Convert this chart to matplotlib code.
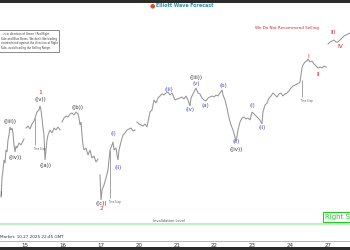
import numpy as np
import matplotlib
matplotlib.use("Agg")
import matplotlib.pyplot as plt
from matplotlib.patches import Rectangle

# bar index (approx. 1 bar per pixel) and price
bars = [1, 2, 3, 4, 5, 6, 7, 8, 9, 10, 11, 12, 13, 14, 15, 16, 17, 19, 21, 23, 24, 25,
        26, 28, 30, 32, 34, 35, 37, 39, 40, 41, 42, 43, 44, 45, 46, 47, 48, 50, 52, 54, 56, 58, 60, 61,
        62, 64, 66, 68, 70, 72, 74, 76, 78, 79, 80, 81, 82, 83, 84, 86, 88, 90, 92, 94, 96, 98, 99,
        100, 101, 102, 104, 106, 108, 109, 110, 112, 113, 114, 116, 117, 118, 119, 121, 123, 125, 127,
        129, 131, 133, 135, 136,
        137, 139, 141, 143, 145, 147, 148, 150, 152, 154, 156, 158, 160, 162, 164, 166, 168, 170, 172,
        175, 177, 180, 182, 184, 186, 188, 190, 191, 193, 195, 196, 198, 200, 202, 204, 206, 208, 210,
        212, 214, 216, 218, 220, 222, 223, 225, 227, 229, 231, 233, 235, 236, 238, 240, 242, 244, 246,
        248, 250, 252, 254, 256, 258, 260, 262, 263, 265, 267, 269, 271, 273, 275, 277, 279, 281, 283,
        285, 287, 289, 291, 293, 295, 297, 299, 300, 301, 302, 303, 305, 307, 308, 310, 312, 314, 316,
        318, 320, 322, 324, 326, 327,
        328, 330, 332, 334, 336, 338, 340, 342, 344, 346, 348, 350]
price = [6603, 6622, 6630, 6640, 6637, 6650, 6648, 6660, 6665, 6673, 6670, 6672, 6667, 6655, 6648,
         6654, 6652, 6657, 6655, 6659, 6661, np.nan,
         6672, 6674, 6671, 6676, 6679, 6682, 6688, 6690, 6694, 6690, 6682, 6672, 6665, 6640, 6650,
         6660, 6665, 6670, 6667, 6672, 6670, 6673, 6670, np.nan,
         6678, 6682, 6684, 6683, 6686, 6687, 6685, 6688, 6686, 6682, 6675, 6678, 6665, 6655, 6650,
         6652, 6645, 6650, 6642, 6644, 6638, 6641, np.nan,
         6625, 6600, 6610, 6615, 6622, 6630, 6640, 6650, 6655, 6658, 6650, 6652, 6645, 6640, 6650,
         6658, 6665, 6667, 6670, 6671, 6672, 6669, 6670, np.nan,
         6678, 6676, 6675, 6674, 6676, 6673, 6678, 6688, 6690, 6700, 6697, 6702, 6704, 6706, 6705,
         6707, 6708, 6705, 6707,
         6700, 6701, 6702, 6703, 6701, 6704, 6700, 6694, 6702, 6706, 6710, 6712, 6707, 6706, 6702,
         6700, 6699, 6702, 6703, 6704, 6703, 6705, 6704, 6707, 6710, 6705, 6700, 6692, 6682, 6675,
         6670, 6663, 6658, 6670, 6678, 6682, 6683, 6681, 6682, 6680, 6688, 6686, 6684, 6682, 6680,
         6676, 6688, 6695, 6697, 6702, 6704, 6707, 6705, 6703, 6706, 6707, 6704, 6706, 6707, 6709,
         6712, 6714, 6715, 6716, 6717, 6718, 6725, 6732, 6735, 6738, 6739, 6741, 6738, 6739, 6736,
         6734, 6732, 6733, 6732, 6734, 6733, np.nan,
         6756, 6758, 6759, 6760, 6758, 6758, 6760, 6762, 6764, 6765, 6766, 6767]

# date ticks
tick_bars = [25, 63, 101, 139, 177, 214, 252, 290, 328]
tick_labels = ["15", "16", "17", "20", "21", "22", "23", "24", "27"]

# session markers: bar, top, bottom
marker_bars = [35, 110, 302]
marker_top = [6682, 6650, 6720]
marker_bot = [6655, 6602, 6703]

invalidation = 6576

# wave labels
black_text = ["((ii))", "((iii))", "((iv))", "((v))", "((a))", "((b))", "((c))", "((iii))", "((iv))"]
black_x = [-3, 10, 15, 40, 45, 78, 101, 196, 236]
black_y = [6607, 6679, 6643, 6701, 6634, 6693, 6597, 6722, 6651]

blue_text = ["(i)", "(ii)", "(iii)", "(iv)", "(v)", "(a)", "(b)", "(c)", "(i)", "(ii)"]
blue_x = [113, 118, 169, 190, 196, 205, 223, 236, 252, 262]
blue_y = [6667, 6632, 6711, 6691, 6717, 6695, 6715, 6658, 6695, 6672]

red_text = ["1", "2", "I", "II", "III", "IV"]
red_x = [40, 101, 308, 318, 333, 340]
red_y = [6708, 6591, 6743, 6726, 6767, 6754]

fig = plt.figure(figsize=(3.5, 2.5), dpi=100)
fig.patch.set_facecolor("white")
ax = fig.add_axes([0, 9 / 250, 1, 238 / 250])
ax.set_xlim(0, 350)
ax.set_ylim(6559, 6797)

ax.plot(bars, price, color="#959595", lw=0.75, solid_joinstyle="miter")
ax.vlines(marker_bars, marker_bot, marker_top, color="#959595", lw=0.6)
for b, lo in zip(marker_bars, marker_bot):
    ax.text(b + 4, lo - 2, "Time Stop", fontsize=1.8, color="#555555", ha="center", va="top")

ax.axhline(invalidation, color="#b0eeb0", lw=1.2)
ax.text(169, invalidation + 1.5, "Invalidation Level", fontsize=2.6, color="#555555",
        ha="center", va="bottom")

for t, x, y in zip(black_text, black_x, black_y):
    ax.text(x, y, t, fontsize=4, color="#333333", ha="center", va="center")
for t, x, y in zip(blue_text, blue_x, blue_y):
    ax.text(x, y, t, fontsize=4, color="#4545d0", ha="center", va="center")
for t, x, y in zip(red_text, red_x, red_y):
    ax.text(x, y, t, fontsize=4.3, color="#dd2222", ha="center", va="center")

ax.text(287, 6772, "We Do Not Recommend Selling", fontsize=3, color="#dd2222",
        ha="center", va="center")

ax.text(325, invalidation + 7, "Right Side", fontsize=5, color="#22cc22", ha="left", va="center",
        bbox=dict(boxstyle="square,pad=0.25", fc="white", ec="#22cc22", lw=0.8))

ax.text(0, 6561.5, "Market: 10.27.2025 22:45 GMT", fontsize=3, color="#333333",
        ha="left", va="bottom")

ax.set_xticks(tick_bars)
ax.set_xticklabels(tick_labels, fontsize=4, color="#333333")
ax.tick_params(axis="x", length=0, pad=1.2)
ax.set_yticks([])
for s in ["top", "left", "right"]:
    ax.spines[s].set_visible(False)
ax.spines["bottom"].set_color("#aaaaaa")
ax.spines["bottom"].set_linewidth(0.6)

# disclaimer box (top left)
box_lines = ["...is in direction of Green / Red Right",
             "Side and Blue Boxes. We don't like trading",
             "countertrend against the direction of Right",
             "Side, avoid trading the Selling Range."]
fig.text(0.002, 1 - 41 / 250, "\n".join(box_lines), fontsize=1.9, color="#333333",
         ha="left", va="center", linespacing=1.3,
         bbox=dict(boxstyle="square,pad=0.5", fc="white", ec="#777777", lw=0.6))

# logo
fig.text(152 / 350, 1 - 5.5 / 250, "\u25CF", fontsize=4.5, color="#e04a2a", ha="center", va="center")
fig.text(156 / 350, 1 - 5.5 / 250, "Elliott Wave Forecast", fontsize=3.4, color="#2a8fa8",
         ha="left", va="center", fontweight="bold")

# dark bands top and bottom
fig.add_artist(Rectangle((0, 1 - 3 / 250), 1, 3 / 250, transform=fig.transFigure,
                         color="#2b2b2b", lw=0))
fig.add_artist(Rectangle((0, 0), 1, 3 / 250, transform=fig.transFigure,
                         color="#2b2b2b", lw=0))

fig.savefig("out.png", dpi=100)
